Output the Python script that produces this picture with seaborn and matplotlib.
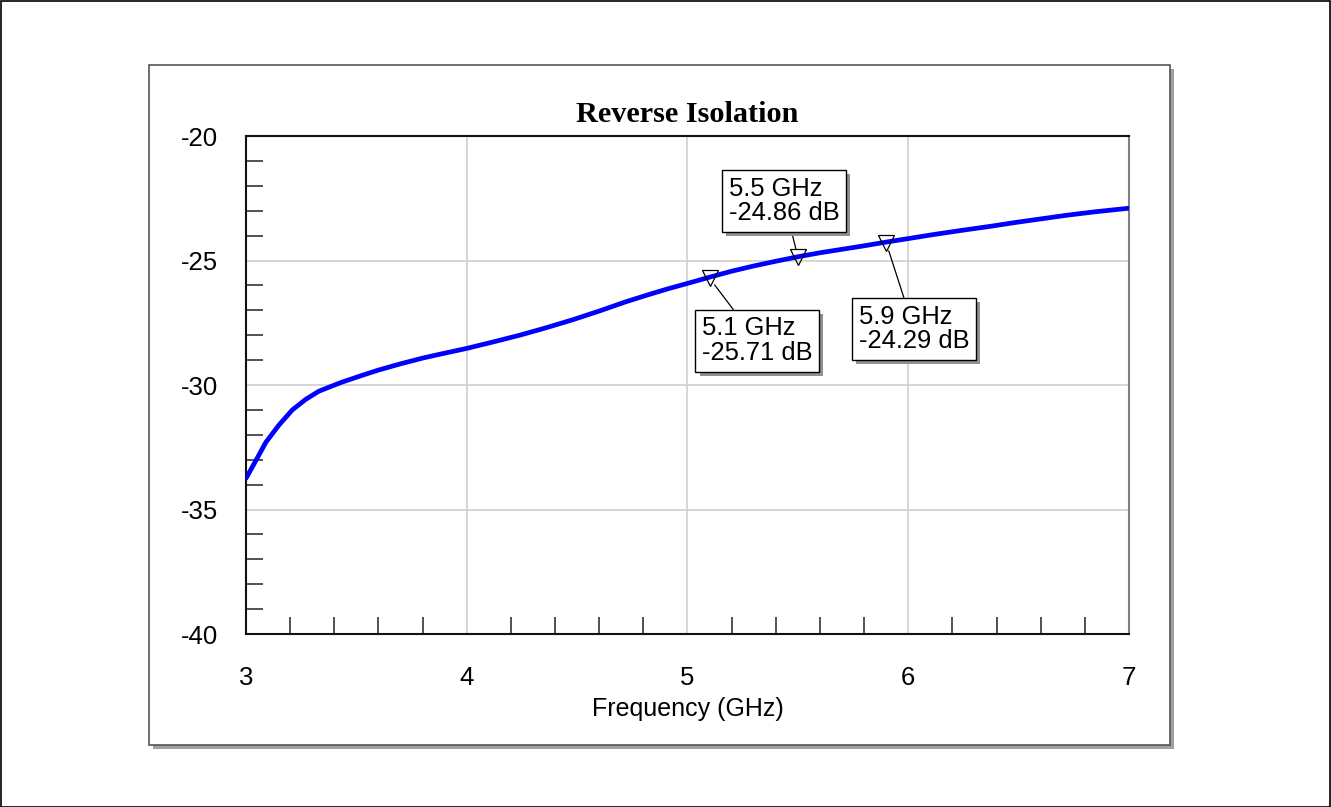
import matplotlib
matplotlib.use("Agg")
import matplotlib.pyplot as plt
import matplotlib.patheffects as pe
from matplotlib.patches import Rectangle
import numpy as np
import pandas as pd
import seaborn as sns

# ---- data ----
freq_ghz = [3.00, 3.05, 3.09, 3.15, 3.21, 3.27, 3.33, 3.43, 3.52, 3.60, 3.70, 3.80, 3.88,
            4.00, 4.12, 4.24, 4.36, 4.48, 4.60, 4.72, 4.82, 4.91, 5.00, 5.10, 5.20,
            5.30, 5.40, 5.50, 5.60, 5.70, 5.80, 5.90, 6.00, 6.12, 6.25, 6.37, 6.48,
            6.60, 6.72, 6.85, 7.00]
isolation_db = [-33.75, -32.95, -32.3, -31.6, -31.0, -30.58, -30.25, -29.9, -29.63, -29.4,
                -29.15, -28.92, -28.76, -28.53, -28.27, -28.0, -27.7, -27.38, -27.03,
                -26.66, -26.38, -26.14, -25.92, -25.67, -25.43, -25.22, -25.03, -24.85,
                -24.69, -24.55, -24.41, -24.26, -24.12, -23.95, -23.78, -23.63, -23.48,
                -23.33, -23.18, -23.04, -22.9]

marker_freqs = [5.1, 5.5, 5.9]
marker_vals = [-25.71, -24.86, -24.29]
marker_labels = ["5.1 GHz\n-25.71 dB", "5.5 GHz\n-24.86 dB", "5.9 GHz\n-24.29 dB"]
label_pos = [(5.315, -28.23), (5.437, -22.61), (6.026, -27.75)]

x_ticks = [3, 4, 5, 6, 7]
y_ticks = [-40, -35, -30, -25, -20]

df = pd.DataFrame({"Frequency (GHz)": freq_ghz, "Isolation (dB)": isolation_db})

sns.set_theme(style="white")
plt.rcParams["font.family"] = ["Liberation Sans", "DejaVu Sans"]
plt.rcParams["axes.unicode_minus"] = False
plt.rcParams["text.color"] = "black"
plt.rcParams["axes.labelcolor"] = "black"
plt.rcParams["xtick.color"] = "black"
plt.rcParams["ytick.color"] = "black"

W, H = 1331, 807
fig = plt.figure(figsize=(W / 100, H / 100), dpi=100)

# outer border
fig.patches.append(Rectangle((0.5 / W, 0.5 / H), 1 - 1.5 / W, 1 - 1.5 / H, transform=fig.transFigure,
                             fill=False, edgecolor="black", linewidth=1.2, zorder=-3))
# panel shadow + frame
px0, px1, py0, py1 = 149, 1170, 65, 745
fig.patches.append(Rectangle(((px0 + 4) / W, 1 - (py1 + 4) / H), (px1 - px0) / W, (py1 - py0) / H,
                             transform=fig.transFigure, facecolor="#a0a0a0", edgecolor="none", zorder=-2))
fig.patches.append(Rectangle((px0 / W, 1 - py1 / H), (px1 - px0) / W, (py1 - py0) / H,
                             transform=fig.transFigure, facecolor="white", edgecolor="#555555",
                             linewidth=1.2, zorder=-1))

ax = fig.add_axes([246 / W, 1 - 634 / H, (1129 - 246) / W, (634 - 136) / H])
ax.set_facecolor("white")

sns.lineplot(data=df, x="Frequency (GHz)", y="Isolation (dB)", ax=ax, color="#0000ff",
             linewidth=3.4, zorder=3)

ax.set_xlim(3, 7)
ax.set_ylim(-40, -20)
ax.set_xticks(x_ticks)
ax.set_yticks(y_ticks)
ax.set_xticks(np.arange(3, 7.01, 0.2), minor=True)
ax.set_yticks(np.arange(-40, -19.9, 1), minor=True)
ax.grid(True, which="major", color="#d0d0d0", linewidth=1.2)
ax.tick_params(which="major", length=0, labelsize=18.5, colors="black")
ax.tick_params(axis="x", which="major", pad=23)
ax.tick_params(axis="y", which="major", pad=20)
ax.tick_params(which="minor", direction="in", length=12, width=1.2, color="#333333")
ax.tick_params(axis="x", which="minor", bottom=True, top=False)
ax.tick_params(axis="y", which="minor", left=True, right=False)

for side in ["left", "bottom", "top"]:
    ax.spines[side].set_color("#111111")
    ax.spines[side].set_linewidth(1.5)
ax.spines["right"].set_color("#808080")
ax.spines["right"].set_linewidth(1.5)

ax.set_xlabel("Frequency (GHz)", fontsize=18, labelpad=5)
ax.set_ylabel("")
ax.set_title("Reverse Isolation", fontsize=21.8, fontweight="bold",
             fontfamily=["Liberation Serif", "DejaVu Serif"], pad=10)

# markers
ax.plot(marker_freqs, marker_vals, linestyle="none", marker="v", markersize=11,
        markerfacecolor="none", markeredgecolor="black", markeredgewidth=0.9, zorder=4)

for (mx, my, lab, (tx, ty)) in zip(marker_freqs, marker_vals, marker_labels, label_pos):
    ann = ax.annotate(lab, xy=(mx, my), xytext=(tx, ty), textcoords="data",
                      ha="center", va="center", multialignment="left",
                      fontsize=18.4, linespacing=1.05,
                      bbox=dict(boxstyle="square,pad=0.25", facecolor="white",
                                edgecolor="black", linewidth=1.0),
                      arrowprops=dict(arrowstyle="-", color="black", linewidth=0.9,
                                      shrinkA=0, shrinkB=6),
                      zorder=5)
    ann.get_bbox_patch().set_path_effects([
        pe.withSimplePatchShadow(offset=(3, -3), shadow_rgbFace="#909090", alpha=1.0)])

fig.savefig("out.png", dpi=100)
